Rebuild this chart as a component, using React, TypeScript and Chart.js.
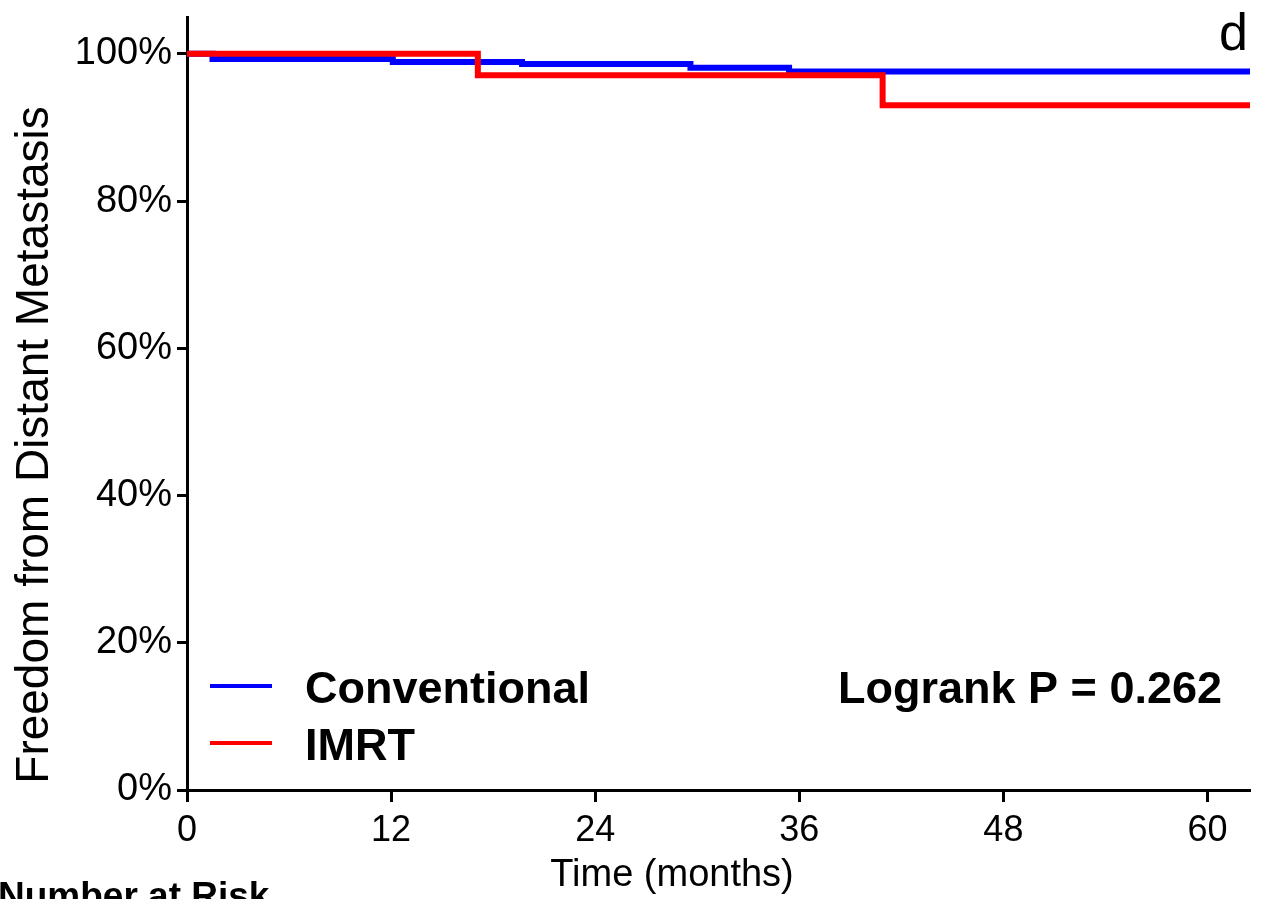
import React, { useEffect, useRef } from "react";
import { Chart, registerables } from "chart.js";

Chart.register(...registerables);

const conventionalTimes = [0, 1.5, 12.1, 19.7, 29.6, 35.4, 62.5];
const conventionalValues = [100, 99.3, 98.9, 98.6, 98.1, 97.6, 97.6];
const imrtTimes = [0, 17.1, 40.9, 62.5];
const imrtValues = [100, 97.1, 93.0, 93.0];
const xTicks = [0, 12, 24, 36, 48, 60];
const yTicks = [0, 20, 40, 60, 80, 100];
const seriesNames = ["Conventional", "IMRT"];
const pValueText = "Logrank P = 0.262";
const panelLabel = "d";
const xTitle = "Time (months)";
const yTitle = "Freedom from Distant Metastasis";
const riskTitle = "Number at Risk";

const FONT = '"Liberation Sans", Arial, Helvetica, sans-serif';

const textPlugin = {
  id: "kmText",
  afterDraw(chart: any) {
    const ctx = chart.ctx as CanvasRenderingContext2D;
    ctx.save();
    ctx.fillStyle = "#000";
    // legend lines
    ctx.lineWidth = 4;
    ctx.strokeStyle = "#0000ff";
    ctx.beginPath();
    ctx.moveTo(210, 686);
    ctx.lineTo(272, 686);
    ctx.stroke();
    ctx.strokeStyle = "#ff0000";
    ctx.beginPath();
    ctx.moveTo(210, 743);
    ctx.lineTo(272, 743);
    ctx.stroke();
    // legend text
    ctx.font = `bold 45px ${FONT}`;
    ctx.textAlign = "left";
    ctx.textBaseline = "alphabetic";
    ctx.fillText(seriesNames[0], 305, 703);
    ctx.fillText(seriesNames[1], 305, 760);
    ctx.textAlign = "right";
    ctx.fillText(pValueText, 1222, 703);
    // panel label
    ctx.font = `52px ${FONT}`;
    ctx.textAlign = "left";
    ctx.fillText(panelLabel, 1219, 50);
    // x title
    ctx.font = `38px ${FONT}`;
    ctx.textAlign = "center";
    ctx.fillText(xTitle, 672, 886);
    // y title
    ctx.save();
    ctx.translate(48, 445);
    ctx.rotate(-Math.PI / 2);
    ctx.font = `46px ${FONT}`;
    ctx.textAlign = "center";
    ctx.fillText(yTitle, 0, 0);
    ctx.restore();
    // number at risk
    ctx.font = `bold 37px ${FONT}`;
    ctx.textAlign = "left";
    ctx.fillText(riskTitle, -2, 908);
    ctx.restore();
  },
};

export default function App() {
  const ref = useRef<HTMLCanvasElement | null>(null);
  useEffect(() => {
    if (!ref.current) return;
    const chart = new Chart(ref.current, {
      type: "line",
      data: {
        datasets: [
          {
            label: seriesNames[1],
            data: imrtTimes.map((t, i) => ({ x: t, y: imrtValues[i] })),
            borderColor: "#ff0000",
            borderWidth: 6,
            pointRadius: 0,
            stepped: true,
            fill: false,
          },
          {
            label: seriesNames[0],
            data: conventionalTimes.map((t, i) => ({ x: t, y: conventionalValues[i] })),
            borderColor: "#0000ff",
            borderWidth: 6,
            pointRadius: 0,
            stepped: true,
            fill: false,
          },
        ],
      },
      options: {
        responsive: false,
        animation: false,
        devicePixelRatio: 1,
        layout: { padding: { left: 0, top: 17, right: 11, bottom: 0 } },
        plugins: { legend: { display: false }, tooltip: { enabled: false } },
        scales: {
          x: {
            type: "linear",
            min: 0,
            max: 62.5,
            afterBuildTicks: (scale: any) => {
              scale.ticks = xTicks.map((v) => ({ value: v }));
            },
            afterFit: (scale: any) => {
              scale.height = 109;
              scale.paddingLeft = 0;
              scale.paddingRight = 0;
            },
            ticks: {
              color: "#000",
              font: { family: FONT, size: 36 },
              padding: 7,
              maxRotation: 0,
              autoSkip: false,
            },
            grid: {
              drawOnChartArea: false,
              drawTicks: true,
              tickLength: 12,
              tickWidth: 3,
              tickColor: "#000",
            },
            border: { display: true, color: "#000", width: 3 },
          },
          y: {
            type: "linear",
            min: 0,
            max: 105,
            afterBuildTicks: (scale: any) => {
              scale.ticks = yTicks.map((v) => ({ value: v }));
            },
            afterFit: (scale: any) => {
              scale.width = 187;
              scale.paddingTop = 0;
              scale.paddingBottom = 0;
            },
            ticks: {
              color: "#000",
              font: { family: FONT, size: 38 },
              padding: 5,
              autoSkip: false,
              callback: (v: any) => `${v}%`,
            },
            grid: {
              drawOnChartArea: false,
              drawTicks: true,
              tickLength: 10,
              tickWidth: 3,
              tickColor: "#000",
            },
            border: { display: true, color: "#000", width: 3 },
          },
        },
      },
      plugins: [textPlugin],
    });
    return () => chart.destroy();
  }, []);
  return (
    <div style={{ position: "fixed", left: 0, top: 0, width: 1261, height: 899, background: "#fff" }}>
      <canvas ref={ref} width={1261} height={899} style={{ display: "block" }} />
    </div>
  );
}
